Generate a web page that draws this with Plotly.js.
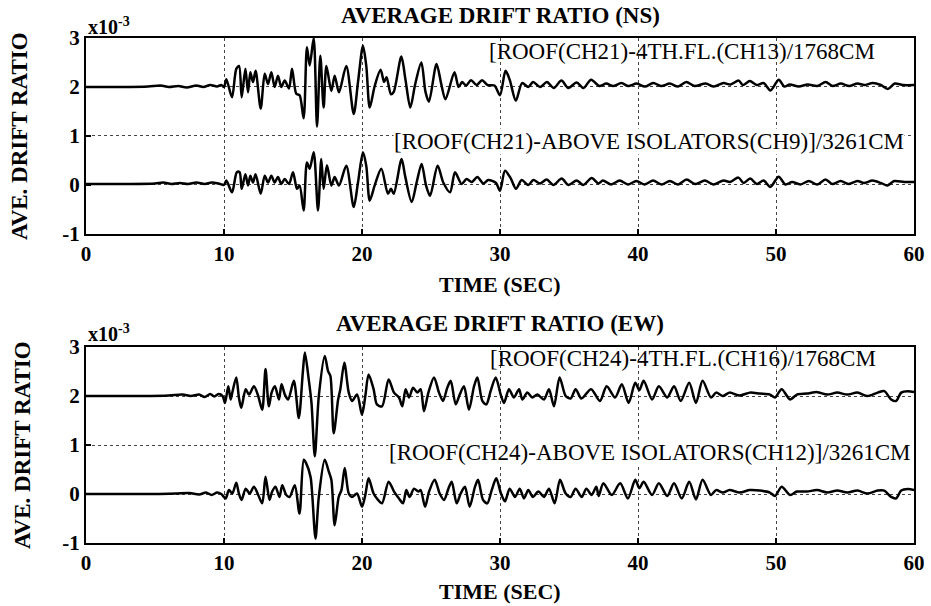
<!DOCTYPE html>
<html>
<head>
<meta charset="utf-8">
<script src="https://cdn.plot.ly/plotly-3.0.1.min.js"></script>
<style>html,body{margin:0;padding:0;background:#fff}#chart{width:931px;height:606px}</style>
</head>
<body>
<div id="chart"></div>
<script>
// ---- data (drift ratio in units of 1e-3) ----
const xTicks = [0, 10, 20, 30, 40, 50, 60];
const yTicks = [-1, 0, 1, 2, 3];
const yTickLabels = ['-1', '0', '1', '2', '3'];
const upperOffset = 2; // upper record drawn shifted by 2e-3

// NS: [ROOF(CH21)-4TH.FL.(CH13)]/1768CM
const nsRoofT = [0,2.5,4.5,5.4,6.0,6.7,7.3,8.0,8.5,9.0,9.5,9.8,10.0,10.17,10.58,10.89,11.09,11.28,11.55,11.74,11.91,12.1,12.29,12.66,12.95,13.19,13.43,13.67,13.91,14.15,14.4,14.71,14.93,15.24,15.48,15.77,16.01,16.21,16.5,16.74,16.98,17.22,17.42,17.78,18.02,18.33,18.86,19.4,19.71,20.07,20.31,20.56,20.92,21.35,21.6,21.78,22.1,22.3,22.85,23.15,23.5,23.85,24.3,24.6,24.85,25.4,25.75,26.05,26.7,27.0,27.25,27.55,27.9,28.3,28.7,29.1,29.6,30.0,30.4,30.7,31.15,31.6,32.05,32.4,32.9,33.4,33.9,34.45,34.95,35.55,36.05,36.6,37.2,37.7,38.2,38.8,39.3,39.9,40.5,41.1,41.7,42.3,42.9,43.5,44.1,44.9,45.5,46.2,46.7,47.3,47.6,48.1,48.6,49.1,49.6,50.2,50.6,51.0,51.65,52.3,53.0,53.6,54.1,54.7,55.3,55.9,56.4,57.0,57.6,58.1,58.6,59.2,60];
const nsRoofV = [0,0,0.01,0.03,0.0,0.02,-0.01,0.03,0.0,0.04,0.01,0.04,0.0,0.16,-0.21,0.37,0.43,-0.21,0.37,-0.11,0.30,0.10,0.33,-0.44,0.27,0.06,0.30,0.0,0.23,0.0,0.13,-0.03,0.37,-0.14,-0.17,-0.64,0.81,0.44,1.0,-0.81,0.64,-0.42,0.43,-0.08,0.23,-0.11,0.43,-0.55,0.10,0.84,0.43,-0.42,0.02,0.35,0.1,0.2,-0.15,-0.1,0.62,0.15,-0.42,0.05,0.5,-0.1,-0.3,0.47,0.05,-0.25,0.3,0.0,0.1,0.03,0.14,0.04,0.14,0.04,0.03,-0.17,0.33,0.15,-0.28,0.08,0.0,0.1,0.0,0.1,-0.02,0.13,-0.02,0.09,-0.02,0.15,0.02,0.07,0.02,0.08,0.02,0.07,0.01,0.08,0.02,0.07,0.01,0.10,0.02,0.07,0.01,0.08,0.05,0.13,0.04,0.12,0.04,0.08,-0.07,0.15,0.01,0.05,0.01,0.05,0.02,0.10,0.02,0.07,0.02,0.07,0.04,0.08,0.04,-0.04,0.07,0.04,0.04];

// NS: [ROOF(CH21)-ABOVE ISOLATORS(CH9)]/3261CM
const nsIsoT = [0,3,5,5.6,6.2,6.8,7.4,8,8.6,9.1,9.6,10.0,10.17,10.58,10.93,11.13,11.28,11.55,11.74,11.91,12.1,12.29,12.66,12.95,13.19,13.43,13.67,13.91,14.15,14.4,14.71,15.0,15.29,15.48,15.77,16.01,16.21,16.5,16.81,17.05,17.22,17.46,17.78,18.02,18.33,18.86,19.4,19.71,20.07,20.31,20.56,20.92,21.4,21.88,22.1,22.3,22.87,23.12,23.6,23.96,24.32,24.64,24.93,25.48,25.89,26.38,26.74,27.22,27.58,27.95,28.36,28.79,29.15,29.71,30.0,30.36,30.77,31.16,31.57,32.05,32.42,32.9,33.38,33.86,34.47,34.95,35.56,36.04,36.64,37.13,37.45,38.06,38.67,39.27,39.88,40.49,41.09,41.7,42.31,42.91,43.52,44.13,44.85,45.46,46.19,46.67,47.28,47.65,48.13,48.62,49.1,49.59,50.19,50.68,51.17,51.77,52.38,52.99,53.59,54.08,54.68,55.29,55.9,56.38,56.99,57.6,58.08,58.57,59.3,60];
const nsIsoV = [0.02,0.02,0.03,0.05,0.02,0.04,0.02,0.05,0.02,0.05,0.03,0.0,0.09,-0.15,0.26,0.26,-0.08,0.22,-0.01,0.19,0.05,0.22,-0.18,0.19,0.05,0.19,0.05,0.16,0.02,0.12,0.02,0.26,-0.08,-0.01,-0.52,0.46,0.33,0.67,-0.52,0.53,-0.08,0.40,-0.01,0.16,-0.01,0.39,-0.45,0.05,0.67,0.39,-0.32,-0.01,0.33,-0.18,-0.08,-0.18,0.53,0.19,-0.35,0.05,0.43,-0.01,-0.22,0.39,0.05,-0.15,0.26,0.02,0.12,0.06,0.16,0.03,0.10,0.04,-0.12,0.29,0.14,-0.08,0.10,0.0,0.10,0.03,0.11,0.0,0.13,0.0,0.09,0.0,0.14,0.03,0.09,0.01,0.09,0.01,0.08,0.01,0.09,0.01,0.08,0.01,0.11,0.02,0.09,0.01,0.09,0.06,0.15,0.04,0.13,0.02,0.09,-0.04,0.17,0.01,0.06,0.01,0.08,0.01,0.11,0.02,0.08,0.02,0.08,0.04,0.09,0.04,-0.01,0.08,0.06,0.06];

// EW: [ROOF(CH24)-4TH.FL.(CH16)]/1768CM
const ewRoofT = [0,4,6,7,7.6,8.2,8.6,9.0,9.3,9.6,9.9,10.07,10.31,10.48,10.6,10.89,11.08,11.25,11.57,11.81,12.17,12.48,12.77,13.01,13.25,13.45,13.69,13.98,14.17,14.41,14.65,15.06,15.42,15.71,15.86,16.14,16.34,16.58,16.87,17.3,17.54,17.71,17.95,18.27,18.43,18.72,19.04,19.28,19.64,20.0,20.24,20.48,20.84,21.08,21.45,21.93,22.32,22.68,22.92,23.16,23.41,23.7,24.01,24.25,24.49,24.81,25.22,25.58,25.87,26.18,26.43,26.79,27.08,27.39,27.75,28.12,28.36,28.72,29.01,29.32,29.69,30.05,30.29,30.65,31.01,31.38,31.62,31.98,32.34,32.71,33.19,33.55,33.91,34.32,34.76,35.12,35.48,35.9,36.6,37.24,37.73,38.34,38.83,39.32,39.8,40.1,40.41,41.02,41.51,42.12,42.61,43.1,43.71,44.2,44.68,45.29,45.66,46.15,46.63,47.37,48.1,48.83,49.56,49.93,50.41,51.02,51.51,52.24,52.98,53.71,54.44,55.17,55.9,56.63,57.37,57.85,58.34,58.71,59.07,59.56,60];
const ewRoofV = [0,0,0.01,0.03,0.0,0.03,-0.02,0.04,-0.01,0.04,0.0,-0.14,0.20,-0.07,0.07,0.38,-0.03,-0.24,0.14,0.03,0.20,0.0,-0.28,0.55,-0.21,0.07,0.20,-0.07,0.24,0.03,-0.07,0.31,-0.45,0.48,0.89,0.34,-0.14,-1.23,0.0,0.82,0.51,0.41,-0.76,-0.07,0.14,0.68,0.07,-0.10,0.03,-0.38,0.0,0.44,0.14,-0.17,-0.21,0.34,0.07,-0.03,-0.21,0.14,-0.03,0.17,0.07,0.14,-0.31,0.07,0.38,0.07,-0.10,0.17,0.31,-0.17,0.03,0.20,-0.28,0.20,0.38,-0.10,-0.17,0.10,0.38,0.03,-0.14,0.14,-0.03,0.14,-0.07,0.07,-0.03,0.03,-0.07,0.14,-0.21,0.38,0.0,-0.05,0.14,-0.05,0.14,-0.10,0.20,-0.03,0.24,-0.14,0.27,0.12,0.31,-0.07,0.20,-0.03,0.20,-0.10,0.27,-0.14,0.31,-0.03,0.07,0.0,0.07,0.01,0.07,0.05,0.03,-0.03,0.14,-0.07,0.03,0.05,0.08,0.03,0.07,0.03,0.07,0.0,0.07,0.10,-0.07,-0.10,0.07,0.10,0.08];

// EW: [ROOF(CH24)-ABOVE ISOLATORS(CH12)]/3261CM
const ewIsoT = [0,5,6.5,7.5,8.2,8.7,9.1,9.5,9.8,10.12,10.36,10.6,10.89,11.08,11.28,11.57,11.86,12.17,12.48,12.77,13.01,13.3,13.49,13.73,14.02,14.22,14.51,14.75,15.13,15.47,15.78,15.95,16.27,16.39,16.63,16.87,17.3,17.59,17.78,18.02,18.31,18.51,18.75,19.04,19.28,19.64,20.0,20.24,20.48,20.84,21.16,21.45,21.93,22.32,22.68,22.97,23.21,23.45,23.77,24.08,24.25,24.57,24.86,25.27,25.63,25.94,26.26,26.5,26.86,27.15,27.46,27.8,28.19,28.41,28.77,29.08,29.4,29.73,30.07,30.36,30.7,31.09,31.43,31.74,32.05,32.39,32.78,33.19,33.55,33.96,34.35,34.76,35.12,35.48,35.92,36.26,36.64,36.98,37.15,37.49,38.1,38.71,39.27,39.8,40.1,40.41,41.02,41.51,42.12,42.61,43.17,43.71,44.2,44.68,45.29,45.66,46.15,46.63,47.37,48.1,48.83,49.56,49.93,50.41,51.02,51.51,52.24,52.98,53.71,54.44,55.17,55.9,56.63,57.37,57.85,58.34,58.71,59.07,59.56,60];
const ewIsoV = [0,0,0.01,0.02,-0.01,0.03,-0.02,0.03,0.0,-0.09,0.08,0.01,0.23,0.01,-0.12,0.11,0.01,0.15,-0.02,-0.19,0.35,-0.12,0.05,0.15,-0.06,0.18,-0.02,-0.06,0.18,-0.40,0.70,0.63,0.35,0.01,-0.91,-0.06,0.70,0.46,0.29,-0.64,-0.06,0.08,0.53,0.01,-0.06,0.01,-0.26,-0.02,0.32,0.01,-0.12,-0.19,0.25,0.05,-0.09,-0.19,0.08,-0.06,0.11,0.05,0.08,-0.26,0.05,0.29,0.01,-0.12,0.11,0.25,-0.19,0.01,0.15,-0.26,0.15,0.29,-0.12,-0.19,0.08,0.32,0.01,-0.15,0.11,-0.06,0.11,-0.09,0.08,-0.06,0.05,-0.06,0.11,-0.19,0.29,0.01,-0.06,0.11,-0.06,0.11,-0.02,0.15,-0.04,0.22,-0.02,0.22,-0.09,0.29,0.12,0.25,-0.02,0.22,-0.04,0.22,-0.09,0.25,-0.11,0.29,-0.02,0.08,0.03,0.08,0.03,0.08,0.07,0.03,-0.04,0.15,-0.02,0.05,0.05,0.08,0.03,0.07,0.03,0.07,0.01,0.07,0.07,-0.06,-0.09,0.07,0.10,0.08];

// ---- drawing ----
const F = '"Liberation Serif", "DejaVu Serif", serif';
function line(t, v, shift, xa, ya) {
  return {x: t, y: v.map(d => d + shift), xaxis: xa, yaxis: ya, type: 'scatter', mode: 'lines',
          line: {color: '#000', width: 2.5, shape: 'spline', smoothing: 0.8}, hoverinfo: 'skip'};
}
const data = [
  line(nsRoofT, nsRoofV, upperOffset, 'x', 'y'),
  line(nsIsoT, nsIsoV, 0, 'x', 'y'),
  line(ewRoofT, ewRoofV, upperOffset, 'x2', 'y2'),
  line(ewIsoT, ewIsoV, 0, 'x2', 'y2')
];
function ax(extra) {
  return Object.assign({
    showline: true, mirror: true, linecolor: '#000', linewidth: 2,
    ticks: 'inside', ticklen: 5, tickwidth: 1.5, tickcolor: '#000',
    showgrid: true, gridcolor: '#444', gridwidth: 1, griddash: 'dot',
    zeroline: false, fixedrange: true,
    tickfont: {family: F, size: 21, color: '#000', weight: 'bold'}
  }, extra);
}
const txt = (text, x, y, size, extra) => Object.assign({
  text, x, y, xref: 'paper', yref: 'paper', showarrow: false,
  font: {family: F, size, color: '#000', weight: 'bold'}
}, extra || {});
const lab = (text, x, y, bg) => ({
  text, x, y, xref: 'paper', yref: 'paper', xanchor: 'right', yanchor: 'middle', showarrow: false,
  bgcolor: bg ? '#fff' : 'rgba(0,0,0,0)', borderpad: 0,
  font: {family: F, size: 23, color: '#000'}
});
const layout = {
  width: 931, height: 606,
  margin: {l: 86, r: 17, t: 38, b: 63},
  paper_bgcolor: '#fff', plot_bgcolor: '#fff', showlegend: false,
  xaxis: ax({domain: [0, 1], range: [0, 60], tickvals: xTicks, anchor: 'y'}),
  yaxis: ax({domain: [0.612, 1], range: [-1, 3], tickvals: yTicks, ticktext: yTickLabels, anchor: 'x'}),
  xaxis2: ax({domain: [0, 1], range: [0, 60], tickvals: xTicks, anchor: 'y2'}),
  yaxis2: ax({domain: [0, 0.388], range: [-1, 3], tickvals: yTicks, ticktext: yTickLabels, anchor: 'x2'}),
  annotations: [
    txt('AVERAGE DRIFT RATIO (NS)', 0.5, 1.0436, 23, {yanchor: 'middle'}),
    txt('AVERAGE DRIFT RATIO (EW)', 0.5, 0.4337, 23, {yanchor: 'middle'}),
    txt('x10<sup>-3</sup>', 0.0, 1.0238, 20, {xanchor: 'left', yanchor: 'middle'}),
    txt('x10<sup>-3</sup>', 0.0, 0.4159, 20, {xanchor: 'left', yanchor: 'middle'}),
    txt('TIME (SEC)', 0.5, 0.511, 22, {yanchor: 'middle'}),
    txt('TIME (SEC)', 0.5, -0.097, 22, {yanchor: 'middle'}),
    txt('AVE. DRIFT RATIO', -0.0797, 0.806, 23, {textangle: -90, xanchor: 'center', yanchor: 'middle'}),
    txt('AVE. DRIFT RATIO', -0.0773, 0.194, 23, {textangle: -90, xanchor: 'center', yanchor: 'middle'}),
    lab('[ROOF(CH21)-4TH.FL.(CH13)/1768CM', 0.954, 0.974, false),
    lab('[ROOF(CH21)-ABOVE ISOLATORS(CH9)]/3261CM', 0.989, 0.796, true),
    lab('[ROOF(CH24)-4TH.FL.(CH16)/1768CM', 0.955, 0.366, false),
    lab('[ROOF(CH24)-ABOVE ISOLATORS(CH12)]/3261CM', 0.998, 0.180, true)
  ]
};
Plotly.newPlot('chart', data, layout, {staticPlot: true, displayModeBar: false});
</script>
</body>
</html>
